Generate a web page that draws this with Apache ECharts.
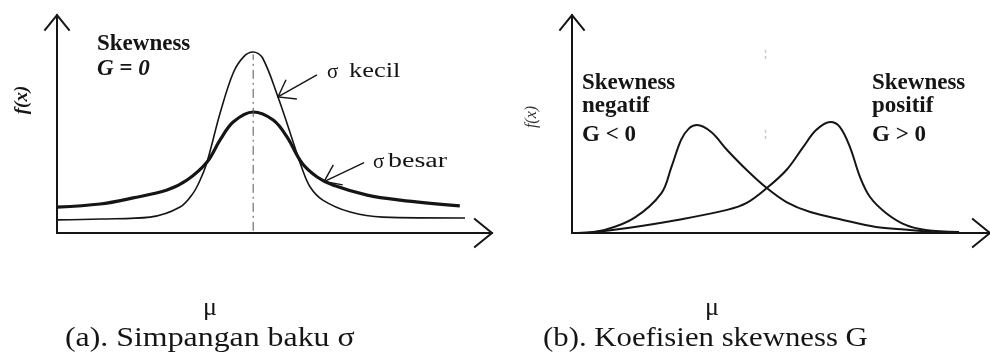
<!DOCTYPE html>
<html>
<head>
<meta charset="utf-8">
<script src="https://cdn.jsdelivr.net/npm/echarts@6/dist/echarts.min.js"></script>
<style>
  html, body { margin: 0; padding: 0; background: #ffffff; }
  #c { width: 990px; height: 358px; }
</style>
</head>
<body>
<div id="c"></div>
<script>
// (a) symmetric densities around the mean: small vs large standard deviation
const aKecilX = [0, 9.9, 21.4, 28.3, 31.3, 32.9, 34.5, 37.5, 40.5, 43.0, 45.1, 47.2, 50.8, 53.6, 56.3, 58.2, 61.1, 67.4, 74.9, 93.8];
const aKecilY = [6.0, 6.4, 7.3, 11.9, 18.3, 24.3, 32.6, 55.0, 73.4, 81.0, 83.0, 80.5, 62.4, 45.9, 29.8, 21.1, 15.1, 9.6, 7.3, 6.9];
const aBesarX = [0, 9.9, 17.5, 25.3, 29.9, 34.5, 37.5, 40.5, 45.1, 49.7, 52.9, 56.3, 59.8, 63.4, 71.3, 78.9, 92.6];
const aBesarY = [11.9, 13.3, 16.1, 19.7, 24.3, 32.6, 42.7, 50.9, 55.5, 51.8, 44.0, 32.1, 25.7, 22.0, 17.4, 15.1, 12.4];
// position of the mean and its dash-dot guide
const aMeanX = 45.1;
const aMeanSpan = [1, 82];

// (b) skewed densities: peak on the left and peak on the right
const bNegX = [1.4, 7.8, 14.9, 21.4, 23.8, 26.1, 28.0, 29.9, 33.3, 37.1, 41.8, 46.6, 51.3, 57.0, 64.8, 72.7, 80.8, 87.9];
const bNegY = [0, 1.4, 6.9, 18.3, 30.3, 42.7, 48.0, 49.5, 46.3, 38.1, 28.9, 20.6, 14.2, 9.6, 6.0, 2.8, 1.4, 0];
const bPosX = [3.8, 13.3, 25.2, 37.1, 41.8, 46.6, 51.3, 55.3, 58.4, 61.8, 64.1, 66.5, 68.9, 71.3, 75.1, 79.8, 84.6, 92.6];
const bPosY = [0, 2.3, 6.0, 10.6, 13.8, 20.6, 28.9, 39.4, 47.2, 50.9, 48.6, 39.4, 25.7, 16.5, 9.2, 3.7, 1.4, 0.5];
// faint centre marks
const bMarkX = 46.3;
const bMarkY = [84, 78.4, '-', 47.2, 42.7];

// text
const labelsA = ['Skewness', 'G = 0'];
const labelsNeg = ['Skewness', 'negatif', 'G < 0'];
const labelsPos = ['Skewness', 'positif', 'G > 0'];
const calloutKecil = 'kecil';
const calloutBesar = 'besar';
const captionA = '(a). Simpangan baku σ';
const captionB = '(b). Koefisien skewness G';
const meanSymbol = 'μ';
const yName = 'f(x)';

const INK = '#151515';
const SERIF = '"Liberation Serif", "DejaVu Serif", serif';

function pairs(xs, ys) { return xs.map((x, i) => [x, ys[i]]); }

const chart = echarts.init(document.getElementById('c'), null, { renderer: 'canvas' });

function axis(gi) {
  return {
    type: 'value', gridIndex: gi, min: 0, max: 100,
    axisLine: { show: true, onZero: false, lineStyle: { color: INK, width: 2 } },
    axisTick: { show: false }, axisLabel: { show: false }, splitLine: { show: false }
  };
}

function curve(gi, data, width, extra) {
  return Object.assign({
    type: 'line', xAxisIndex: gi, yAxisIndex: gi, data: data,
    smooth: 0.35, showSymbol: false, symbol: 'none', silent: true,
    lineStyle: { color: INK, width: width }
  }, extra || {});
}

chart.setOption({
  animation: false,
  backgroundColor: '#ffffff',
  grid: [
    { left: 57, top: 15, width: 435, height: 218 },
    { left: 572, top: 15, width: 421, height: 218 }
  ],
  xAxis: [axis(0), axis(1)],
  yAxis: [axis(0), axis(1)],
  series: [
    curve(0, pairs(aKecilX, aKecilY), 1.6),
    curve(0, pairs(aBesarX, aBesarY), 3.2),
    curve(0, [[aMeanX, aMeanSpan[0]], [aMeanX, aMeanSpan[1]]], 1, {
      smooth: false, lineStyle: { color: '#555', width: 1, type: [9, 4, 2, 4] }
    }),
    curve(1, pairs(bNegX, bNegY), 2),
    curve(1, pairs(bPosX, bPosY), 2),
    curve(1, bMarkY.map(v => [bMarkX, v]), 1.5, {
      smooth: false, connectNulls: false, lineStyle: { color: '#c8c8c8', width: 1.5, type: [3, 3] }
    })
  ]
});

const px = (gi, pt) => chart.convertToPixel({ gridIndex: gi }, pt);

// open chevron arrowhead: tip point, direction pointing back along the shaft
function chevron(tip, backAngle, len, spread, width) {
  const a1 = backAngle + spread, a2 = backAngle - spread;
  return {
    type: 'polyline',
    shape: { points: [
      [tip[0] + len * Math.cos(a1), tip[1] + len * Math.sin(a1)],
      tip,
      [tip[0] + len * Math.cos(a2), tip[1] + len * Math.sin(a2)]
    ] },
    style: { stroke: INK, lineWidth: width, fill: null }
  };
}

function callout(tail, tip, width) {
  const ang = Math.atan2(tail[1] - tip[1], tail[0] - tip[0]);
  return [
    { type: 'line', shape: { x1: tail[0], y1: tail[1], x2: tip[0], y2: tip[1] },
      style: { stroke: INK, lineWidth: width } },
    chevron(tip, ang, 19, 0.62, width)
  ];
}

// text element; opts: size, weight, italic, align, fill, scaleX, rotation
function txt(x, y, s, o) {
  const el = {
    type: 'text', x: x, y: y,
    style: {
      text: s, fill: o.fill || INK,
      fontFamily: SERIF, fontSize: o.size,
      fontWeight: o.weight || 'normal',
      fontStyle: o.italic ? 'italic' : 'normal',
      align: o.align || 'left', verticalAlign: 'middle'
    }
  };
  if (o.scaleX) el.scaleX = o.scaleX;
  if (o.rotation) el.rotation = o.rotation;
  return el;
}

const elements = [];
// axis arrowheads
[0, 1].forEach(gi => {
  const xe = px(gi, [100, 0]);
  const ye = px(gi, [0, 100]);
  elements.push(chevron(xe, Math.PI, 23, 0.68, 2));
  elements.push(chevron(ye, Math.PI / 2, 20, 0.68, 2));
});

// callout arrows to the two curves of panel (a)
const tipKecil = px(0, [50.8, 62.4]);
const tipBesar = px(0, [61.4, 23.6]);
elements.push(...callout([tipKecil[0] + 39, tipKecil[1] - 22], tipKecil, 1.4));
elements.push(...callout([tipBesar[0] + 40, tipBesar[1] - 19], tipBesar, 1.4));

// panel (a) texts
elements.push(txt(97, 44, labelsA[0], { size: 23, weight: 'bold' }));
elements.push(txt(97, 69, labelsA[1], { size: 23, weight: 'bold', italic: true }));
elements.push(txt(327, 72, 'σ', { size: 21 }));
elements.push(txt(349, 72, calloutKecil, { size: 20, scaleX: 1.32 }));
elements.push(txt(373, 162, 'σ', { size: 21 }));
elements.push(txt(388, 162, calloutBesar, { size: 20, scaleX: 1.4 }));
elements.push(txt(22, 100, yName, { size: 19, weight: 'bold', italic: true, align: 'center', rotation: Math.PI / 2 }));

// panel (b) texts
const rowY = [83, 106, 135];
labelsNeg.forEach((s, i) => elements.push(txt(582, rowY[i], s, { size: 23, weight: 'bold' })));
labelsPos.forEach((s, i) => elements.push(txt(872, rowY[i], s, { size: 23, weight: 'bold' })));
elements.push(txt(532, 117, yName, { size: 16, italic: true, align: 'center', fill: '#333', rotation: Math.PI / 2 }));

// captions under the panels
elements.push(txt(210, 308, meanSymbol, { size: 26, align: 'center' }));
elements.push(txt(712, 308, meanSymbol, { size: 26, align: 'center' }));
elements.push(txt(65, 339, captionA, { size: 27, scaleX: 1.18 }));
elements.push(txt(543, 339, captionB, { size: 27, scaleX: 1.14 }));

chart.setOption({ graphic: { elements: elements } });
</script>
</body>
</html>
